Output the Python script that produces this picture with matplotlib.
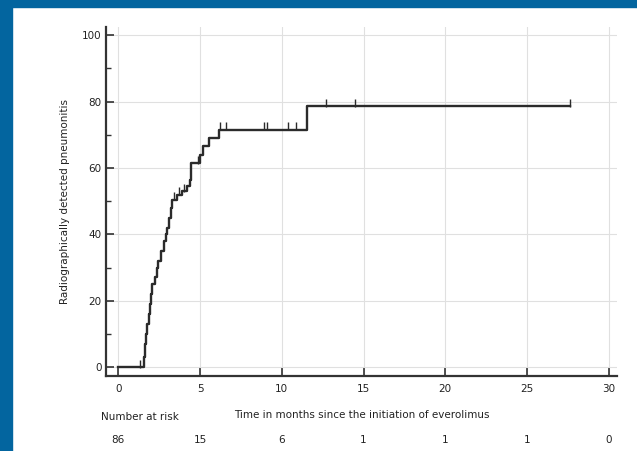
import matplotlib
matplotlib.use('Agg')
import matplotlib.pyplot as plt
from matplotlib.patches import Rectangle

# Kaplan-Meier style cumulative incidence (step, post)
event_times = [0, 1.55, 1.62, 1.70, 1.78, 1.85, 1.92, 2.0, 2.05, 2.25, 2.35, 2.46,
               2.6, 2.77, 2.9, 2.97, 3.1, 3.2, 3.28, 3.58, 3.89, 4.19, 4.4, 4.43,
               5.0, 5.2, 5.52, 6.17, 11.56]
event_values = [0, 3, 7, 10, 13, 16, 19, 22, 25, 27, 30, 32, 35, 38, 40, 42, 45,
                48, 50.5, 52, 53, 54.5, 56.5, 61.5, 64, 66.5, 69, 71.6, 78.6]
end_time = 27.6

# censored observations
censor_times = [1.3, 3.4, 3.7, 4.05, 4.9, 6.2, 6.6, 8.92, 9.12, 10.37, 10.87,
                12.7, 14.5, 27.6]

risk_times = [0, 5, 10, 15, 20, 25, 30]
risk_counts = [86, 15, 6, 1, 1, 1, 0]


def value_at(t):
    v = 0
    for et, ev in zip(event_times, event_values):
        if et <= t:
            v = ev
    return v


fig = plt.figure(figsize=(6.37, 4.51), dpi=100)
fig.patch.set_facecolor('white')
blue = '#03659f'
fig.patches.append(Rectangle((0, 0), 12 / 637, 1, transform=fig.transFigure,
                             color=blue, zorder=0))
fig.patches.append(Rectangle((0, 1 - 7 / 451), 1, 7 / 451, transform=fig.transFigure,
                             color=blue, zorder=0))

ax = fig.add_axes([106 / 637, 75 / 451, 511 / 637, 349 / 451])
ax.set_facecolor('none')

xs = event_times + [end_time]
ys = event_values + [event_values[-1]]
ax.step(xs, ys, where='post', color='#2b2b2b', lw=1.7, zorder=3)

cy = [value_at(t) for t in censor_times]
ax.plot(censor_times, [c + 1.0 for c in cy], linestyle='none', marker='|',
        markersize=5.5, mew=1.0, color='#2b2b2b', zorder=3)

ax.set_xlim(-0.75, 30.5)
ax.set_ylim(-2.7, 102.5)
ax.set_xticks(range(0, 31, 5))
ax.set_yticks(range(0, 101, 20))
ax.set_yticks(range(10, 100, 20), minor=True)
ax.grid(True, which='major', color='#e0e0e0', lw=0.8)
ax.set_axisbelow(True)

for s in ['top', 'right']:
    ax.spines[s].set_visible(False)
for s in ['left', 'bottom']:
    ax.spines[s].set_color('#333333')
    ax.spines[s].set_linewidth(1.6)

ax.tick_params(axis='both', which='major', direction='in', length=6, width=1.2,
               colors='#333333', labelsize=7.5, labelcolor='#222222')
ax.tick_params(axis='y', which='minor', direction='in', length=3.5, width=1.0,
               colors='#333333')
ax.tick_params(axis='x', pad=6)
ax.tick_params(axis='y', pad=3)

ax.set_ylabel('Radiographically detected pneumonitis', fontsize=7.5,
              color='#222222', labelpad=9)
ax.set_xlabel('Time in months since the initiation of everolimus', fontsize=7.5,
              color='#222222', labelpad=11)

fig.text(101 / 637, 1 - 417 / 451, 'Number at risk', fontsize=7.5,
         color='#222222', ha='left', va='center')
for t, n in zip(risk_times, risk_counts):
    xd = ax.transData.transform((t, 0))[0]
    fig.text(xd / fig.bbox.width, 1 - 440 / 451, str(n), fontsize=7.5,
             color='#222222', ha='center', va='center')

fig.savefig('out.png', dpi=100)
